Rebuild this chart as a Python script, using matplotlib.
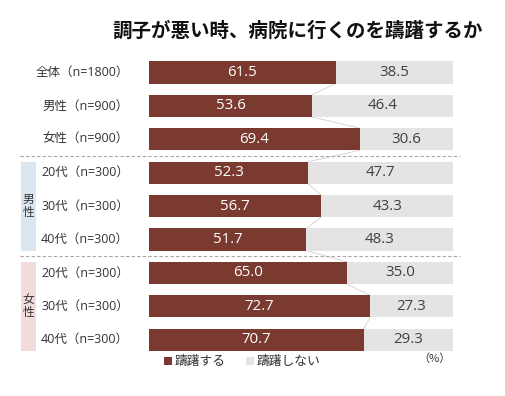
import matplotlib
matplotlib.use("Agg")
import matplotlib.pyplot as plt
import matplotlib.transforms as mtransforms
from matplotlib.patches import Rectangle, Patch

plt.rcParams["font.family"] = ["Noto Sans CJK JP", "DejaVu Sans"]
MIXED = ["Open Sans", "Noto Sans CJK JP", "DejaVu Sans"]

title = "調子が悪い時、病院に行くのを躊躇するか"
categories = [
    "全体（n=1800）", "男性（n=900）", "女性（n=900）",
    "20代（n=300）", "30代（n=300）", "40代（n=300）",
    "20代（n=300）", "30代（n=300）", "40代（n=300）",
]
hesitate = [61.5, 53.6, 69.4, 52.3, 56.7, 51.7, 65.0, 72.7, 70.7]
not_hesitate = [38.5, 46.4, 30.6, 47.7, 43.3, 48.3, 35.0, 27.3, 29.3]
series_names = ["躊躇する", "躊躇しない"]
groups = [("男\n性", 3, 5, "#dce6f1"), ("女\n性", 6, 8, "#f2dcdb")]

RED = "#7b3a30"
GRAY = "#e4e4e4"
W, H = 506, 396

fig = plt.figure(figsize=(W / 100, H / 100), dpi=100)
pitch = 33.4
top_px = 72.5 - pitch / 2
bot_px = top_px + pitch * len(categories)
ax = fig.add_axes([149 / W, 1 - bot_px / H, 304 / W, (bot_px - top_px) / H])

rows = list(range(len(categories)))
bh = 0.66
ax.barh(rows, hesitate, height=bh, color=RED, label=series_names[0])
ax.barh(rows, not_hesitate, left=hesitate, height=bh, color=GRAY, label=series_names[1])

for i in rows:
    ax.text(hesitate[i] / 2, i, f"{hesitate[i]:.1f}", ha="center", va="center",
            color="white", fontsize=10.8, family=MIXED)
    ax.text(hesitate[i] + not_hesitate[i] / 2, i, f"{not_hesitate[i]:.1f}",
            ha="center", va="center", color="#404040", fontsize=10.8, family=MIXED)

# series lines between bars
for i in rows[:-1]:
    ax.plot([hesitate[i], hesitate[i + 1]], [i + bh / 2, i + 1 - bh / 2],
            color="#d0d0d0", lw=0.6, zorder=0)
ax.plot([100, 100], [-0.5, len(categories) - 0.5], color="#d9d9d9", lw=0.8, zorder=0)

ax.set_xlim(0, 100)
ax.set_ylim(len(categories) - 0.5, -0.5)
ax.axis("off")

trans = mtransforms.blended_transform_factory(fig.transFigure, ax.transData)
for i, c in enumerate(categories):
    ax.text(129 / W, i, c, transform=trans, ha="right", va="center",
            fontsize=9.0, color="#333333", family=MIXED)

for y in (2.5, 5.5):
    ax.plot([20 / W, 460 / W], [y, y], transform=trans, color="#a6a6a6",
            lw=0.8, ls=(0, (3, 2)), clip_on=False)

for lab, r0, r1, col in groups:
    y0 = r0 - 0.33
    y1 = r1 + 0.33
    ax.add_patch(Rectangle((21 / W, y0), 15 / W, y1 - y0, transform=trans,
                           facecolor=col, edgecolor="none", clip_on=False))
    ax.text(28.5 / W, (r0 + r1) / 2, lab, transform=trans, ha="center",
            va="center", fontsize=8.5, color="#333333", linespacing=1.0)

fig.text(298 / W, 1 - 31 / H, title, ha="center", va="center",
         fontsize=14, fontweight="bold", color="#111111")

handles = [Patch(facecolor=RED), Patch(facecolor=GRAY)]
fig.legend(handles, series_names, loc="center left",
           bbox_to_anchor=(158 / W, 1 - 362 / H), ncol=2, frameon=False,
           fontsize=9.2, handlelength=0.6, handleheight=0.6, handletextpad=0.2,
           columnspacing=1.6, borderpad=0, labelcolor="#333333")

fig.text(451 / W, 1 - 359 / H, "（%）", ha="right", va="center", fontsize=8,
         color="#333333")

fig.savefig("out.png", dpi=100)
